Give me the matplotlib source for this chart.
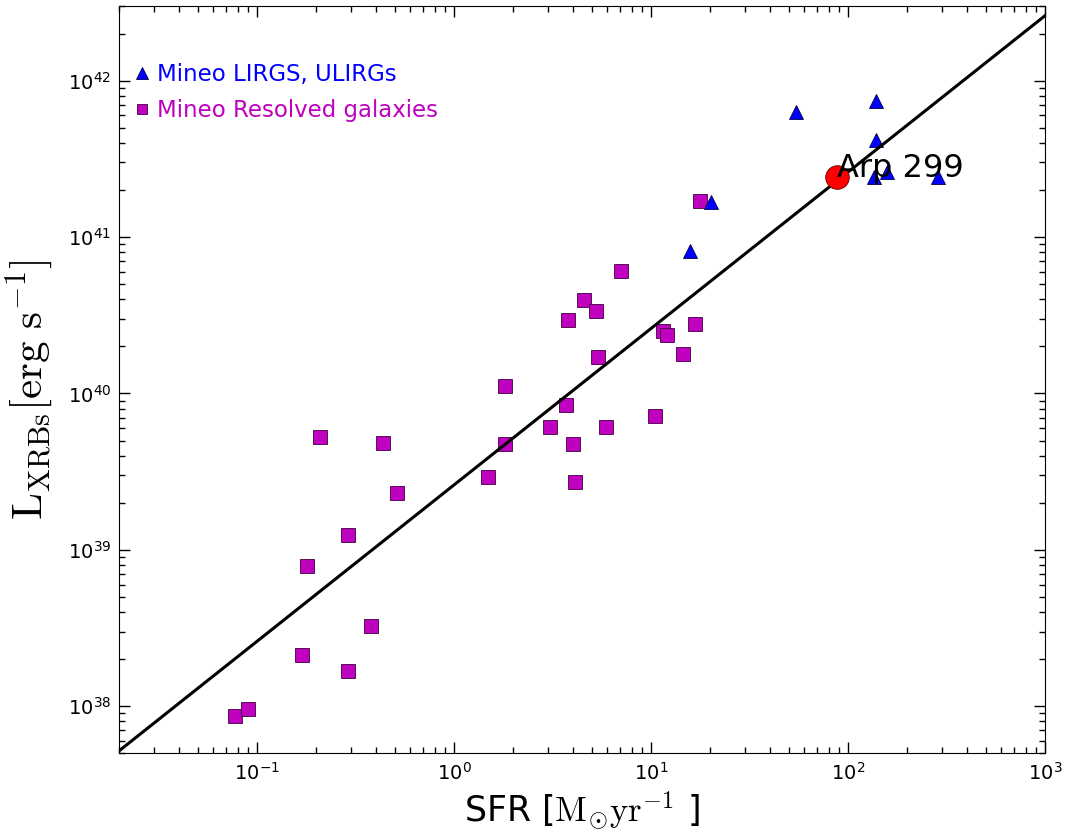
import numpy as np
import matplotlib
matplotlib.use('Agg')
import matplotlib.pyplot as plt
from matplotlib.lines import Line2D

# Mineo resolved galaxies (SFR [Msun/yr], L_XRB [erg/s])
res_sfr = [0.0773, 0.0903, 0.170, 0.290, 0.378, 0.1795, 0.290, 0.516, 0.209, 0.438,
           1.488, 1.807, 1.807, 3.085, 3.69, 4.00, 4.12, 3.78, 4.59, 5.27,
           5.41, 5.94, 7.02, 10.45, 11.53, 12.08, 14.51, 16.70, 17.70]
res_lx = [8.6e37, 9.6e37, 2.13e38, 1.68e38, 3.27e38, 7.94e38, 1.25e39, 2.32e39, 5.26e39, 4.84e39,
          2.92e39, 4.74e39, 1.11e40, 6.12e39, 8.38e39, 4.74e39, 2.73e39, 2.94e40, 3.98e40, 3.35e40,
          1.70e40, 6.12e39, 6.03e40, 7.19e39, 2.50e40, 2.36e40, 1.78e40, 2.80e40, 1.69e41]

# Mineo LIRGs / ULIRGs
lirg_sfr = [54.2, 139.0, 139.0, 135.6, 157.4, 288.0, 20.1, 15.8]
lirg_lx = [6.27e41, 7.37e41, 4.18e41, 2.41e41, 2.59e41, 2.41e41, 1.67e41, 8.2e40]

# Arp 299
arp_sfr = 88.4
arp_lx = 2.41e41

# L_XRB - SFR relation (end points)
fit_sfr = [0.02, 1000.0]
fit_lx = [5.2e37, 2.6e42]

fig = plt.figure(figsize=(10.7, 8.36), dpi=100)
ax = fig.add_axes([0.1115, 0.0989, 0.8651, 0.8939])

ax.plot(res_sfr, res_lx, 's', color='m', markersize=10, markeredgecolor='#400040',
        markeredgewidth=0.6, linestyle='none')
ax.plot(lirg_sfr, lirg_lx, '^', color='b', markersize=10.5, markeredgecolor='#000040',
        markeredgewidth=0.6, linestyle='none')
ax.plot(fit_sfr, fit_lx, 'k-', linewidth=2.2)
ax.plot([arp_sfr], [arp_lx], 'o', color='r', markersize=17, markeredgecolor='#600000',
        markeredgewidth=0.6)
ax.text(arp_sfr, arp_lx, 'Arp 299', fontsize=23)

ax.set_xscale('log')
ax.set_yscale('log')
ax.set_xlim(0.02, 1000)
ax.set_ylim(5e37, 3e42)

ax.tick_params(which='both', direction='in', top=True, right=True, labelsize=14, pad=6)
ax.tick_params(which='major', length=8, width=1)
ax.tick_params(which='minor', length=4, width=1)

ax.set_xlabel(r'SFR [$\mathrm{M_{\odot}yr^{-1}}$ ]', fontsize=25, math_fontfamily='cm')
ax.set_ylabel(r'$\mathrm{L_{XRBs}[erg\ s^{-1}]}$', fontsize=31, math_fontfamily='cm')
ax.yaxis.set_label_coords(-0.068, 0.487)

handles = [
    Line2D([], [], marker='^', color='b', markeredgecolor='#000040', markeredgewidth=0.6,
           linestyle='none', markersize=8),
    Line2D([], [], marker='s', color='m', markeredgecolor='#400040', markeredgewidth=0.6,
           linestyle='none', markersize=7.5),
]
leg = ax.legend(handles, ['Mineo LIRGS, ULIRGs', 'Mineo Resolved galaxies'],
                loc='upper left', bbox_to_anchor=(0.0, 0.945), frameon=False,
                fontsize=16.5, handlelength=0.55, handletextpad=0.4, borderaxespad=0.3,
                labelspacing=0.55, numpoints=1)
for txt, c in zip(leg.get_texts(), ['b', 'm']):
    txt.set_color(c)

fig.savefig('out.png', dpi=100, facecolor='white')
